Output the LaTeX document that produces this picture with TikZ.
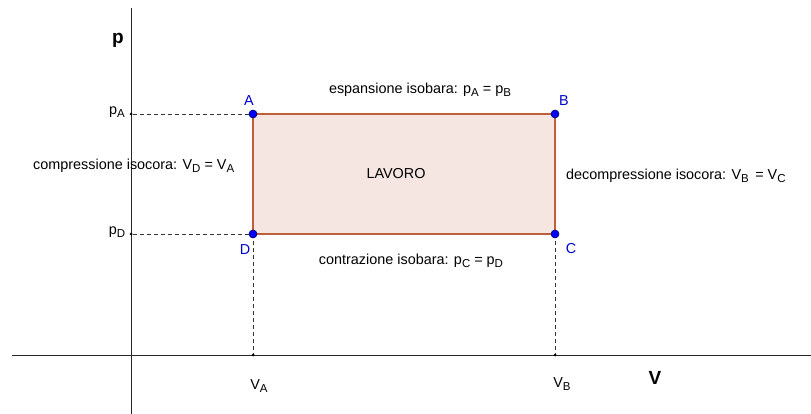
\documentclass[tikz,border=0pt]{standalone}
\usepackage{fontspec}
\setmainfont{Liberation Sans}
\newcommand{\sbs}[1]{\raisebox{-0.45ex}{\fontsize{11.5}{12}\selectfont #1}}
\begin{document}
\begin{tikzpicture}[x=1pt,y=-1pt,
  axis/.style={line width=1pt,black!85},
  guide/.style={black!80,line width=0.6pt,dash pattern=on 4pt off 3pt},
  pt/.style={circle,fill=blue,draw=blue!40!black,line width=0.6pt,inner sep=0pt,minimum size=8pt},
  tick/.style={circle,fill=black,inner sep=0pt,minimum size=3pt},
  lbl/.style={font=\fontsize{14.4}{16}\selectfont,inner sep=0pt},
  plbl/.style={font=\fontsize{14.4}{16}\selectfont,text=blue!80!black,inner sep=0pt}]
\useasboundingbox (0,0) rectangle (811,414);
\fill[white] (0,0) rectangle (811,414);
% axes
\draw[axis] (131,8) -- (131,414);
\draw[axis] (12,355) -- (811,355);
% points
\coordinate (A) at (253,114);
\coordinate (B) at (555,114);
\coordinate (C) at (555,234);
\coordinate (D) at (253,234);
\node[tick] (pa) at (131,114) {};
\node[tick] (pd) at (131,234) {};
\node[tick] (va) at (253,355) {};
\node[tick] (vb) at (555,355) {};
% rectangle
\draw[fill={rgb,255:red,245;green,230;blue,226},draw={rgb,255:red,192;green,96;blue,58},line width=1.1pt] (A) -- (B) -- (C) -- (D) -- cycle;
% guides
\draw[guide] (pa) -- (A);
\draw[guide] (pd) -- (D);
\draw[guide] (D) -- (va);
\draw[guide] (C) -- (vb);
\node[pt] (nA) at (A) {};
\node[pt] (nB) at (B) {};
\node[pt] (nC) at (C) {};
\node[pt] (nD) at (D) {};
% labels
\node[plbl] at (249,101) {A};
\node[plbl] at (564,101) {B};
\node[plbl] at (571,249) {C};
\node[plbl] at (245,250) {D};
\node[font=\bfseries\fontsize{19}{21}\selectfont,inner sep=0pt] at (118,40) {p};
\node[font=\bfseries\fontsize{19}{21}\selectfont,inner sep=0pt] at (655,378) {V};
\node[lbl] at (117,112) {p\sbs{A}};
\node[lbl] at (117,232) {p\sbs{D}};
\node[lbl] at (259,386) {V\sbs{A}};
\node[lbl] at (562,384) {V\sbs{B}};
\node[lbl] at (420,90) {espansione isobara: p\sbs{A} = p\sbs{B}};
\node[lbl] at (396,174) {LAVORO};
\node[lbl,anchor=west] at (33,166) {compressione isocora: V\sbs{D} = V\sbs{A}};
\node[lbl,anchor=west] at (566,176) {decompressione isocora: V\sbs{B}\ \,= V\sbs{C}};
\node[lbl] at (411,261) {contrazione isobara: p\sbs{C} = p\sbs{D}};
\end{tikzpicture}
\end{document}
